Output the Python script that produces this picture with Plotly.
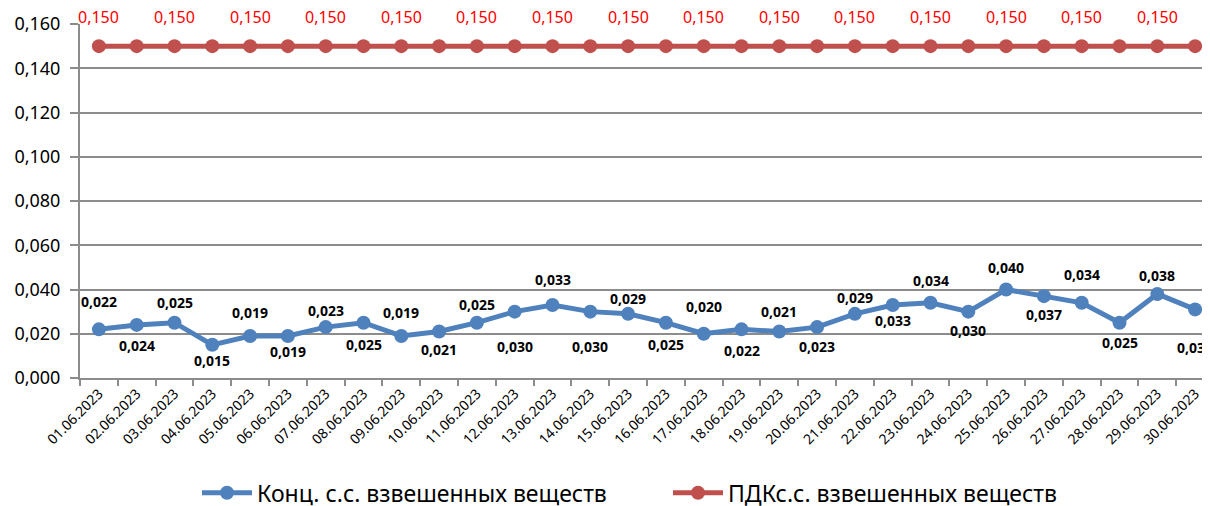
import plotly.graph_objects as go

dates = [f"{d:02d}.06.2023" for d in range(1, 31)]
conc = [0.022, 0.024, 0.025, 0.015, 0.019, 0.019, 0.023, 0.025, 0.019, 0.021,
        0.025, 0.030, 0.033, 0.030, 0.029, 0.025, 0.020, 0.022, 0.021, 0.023,
        0.029, 0.033, 0.034, 0.030, 0.040, 0.037, 0.034, 0.025, 0.038, 0.031]
pdk = [0.150] * 30

name_conc = "Конц. с.с. взвешенных веществ"
name_pdk = "ПДКс.с. взвешенных веществ"

# data-label vertical offsets in pixels (style only), as placed in the original
label_shift = [28, -21, 20, -16, 23, -16, 17, -22, 23, -18,
               18, -35, 25, -35, 15, -22, 27, -21, 20, -19,
               16, -16, 22, -19, 22, -18, 28, -20, 18, -38]

BLUE = "#4F81BD"
RED = "#C0504D"
GRID = "#8C8C8C"
FONT = "Noto Sans"

fig = go.Figure()
fig.add_trace(go.Scatter(x=dates, y=conc, name=name_conc, mode="lines+markers",
                         line=dict(color=BLUE, width=5), marker=dict(size=14, color=BLUE)))
fig.add_trace(go.Scatter(x=dates, y=pdk, name=name_pdk, mode="lines+markers",
                         line=dict(color=RED, width=5), marker=dict(size=14, color=RED)))

def fmt(v):
    return f"{v:.3f}".replace(".", ",")

for d, v, s in zip(dates, conc, label_shift):
    fig.add_annotation(x=d, y=v, text=fmt(v), showarrow=False, yshift=s,
                       font=dict(family=FONT, size=14, color="black", weight="bold"))
for i, (d, v) in enumerate(zip(dates, pdk)):
    if i % 2 == 0:
        fig.add_annotation(x=d, y=v, text=fmt(v), showarrow=False, yshift=29,
                           font=dict(family=FONT, size=16, color="red"))

fig.update_layout(
    width=1210, height=506,
    margin=dict(l=72, r=4, t=16, b=136, autoexpand=False),
    paper_bgcolor="white", plot_bgcolor="white",
    separators=", ",
    font=dict(family=FONT, color="black"),
    showlegend=True,
    legend=dict(orientation="h", x=189 / 1210, xanchor="left", y=0.042, yanchor="middle",
                xref="container", yref="container", entrywidth=406,
                font=dict(family=FONT, size=23, color="black"), itemwidth=50),
)
fig.update_xaxes(type="category", range=[-0.5, 29.5], tickson="boundaries", automargin=False,
                 showline=True, linecolor=GRID, linewidth=2, ticks="outside", ticklen=6,
                 tickcolor=GRID, tickwidth=2, tickangle=-45, showgrid=False,
                 tickfont=dict(family=FONT, size=14, color="black"))
fig.update_yaxes(range=[0, 0.16], dtick=0.02, tickformat=".3f", automargin=False,
                 showline=True, linecolor=GRID, linewidth=2, ticks="outside", ticklen=8,
                 tickcolor=GRID, tickwidth=2, showgrid=True, gridcolor=GRID, gridwidth=1.5,
                 zeroline=False, ticklabelstandoff=6,
                 tickfont=dict(family=FONT, size=18, color="black"))

fig.write_html("out.html")
